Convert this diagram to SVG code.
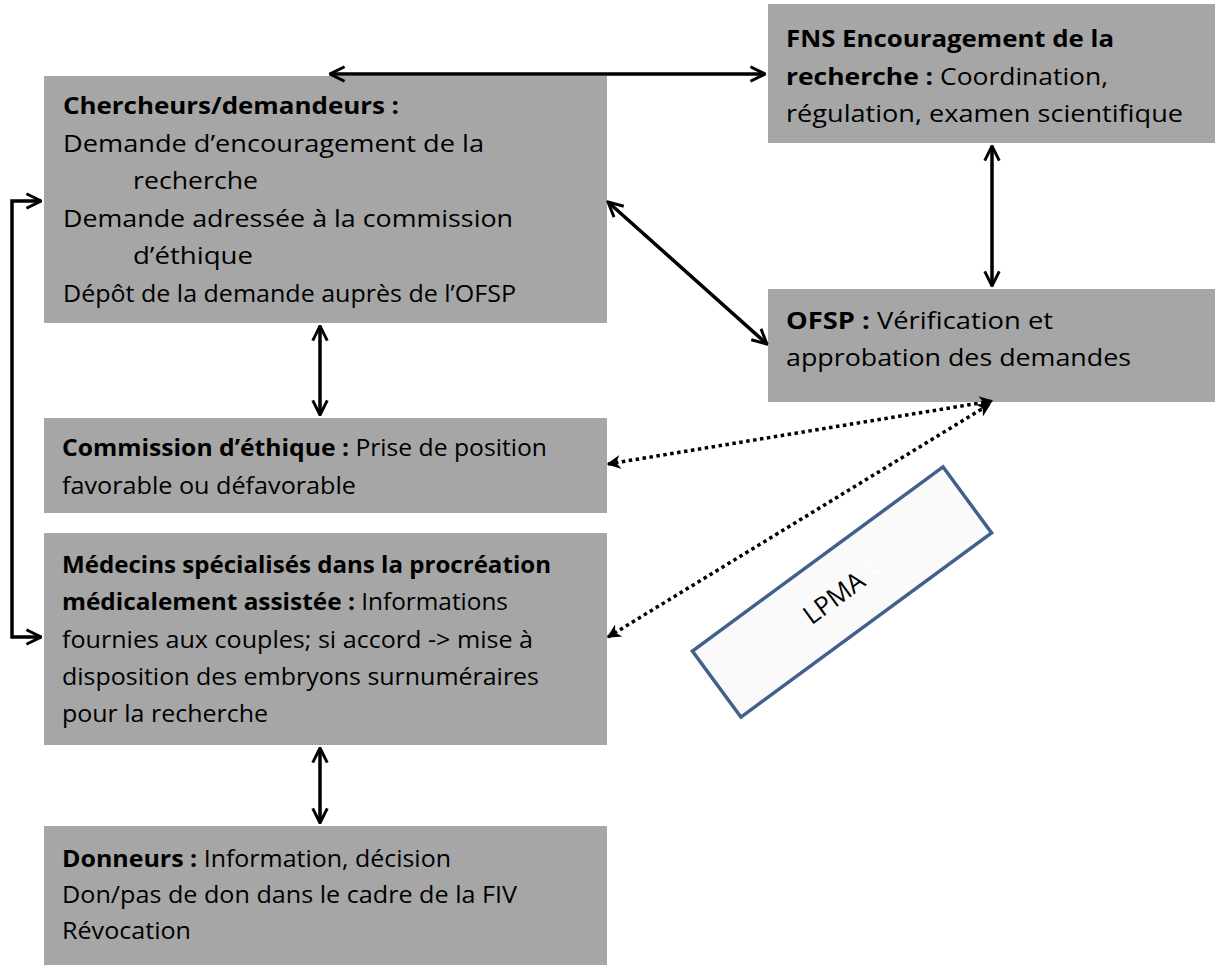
<svg xmlns="http://www.w3.org/2000/svg" width="1215" height="966" viewBox="0 0 1215 966">
<defs>
<style>
.box{fill:#a6a6a6}
.t{font-family:"Open Sans","Liberation Sans",Arial,sans-serif;font-size:24px;fill:#000}
.b{font-weight:bold}
.ln{stroke:#000;stroke-width:3.5;fill:none}
.dt{stroke:#000;stroke-width:3.5;fill:none;stroke-dasharray:3.5 3.5}
</style>
<marker id="ah" viewBox="0 0 12 12" refX="11" refY="6" markerWidth="5" markerHeight="5" orient="auto-start-reverse" markerUnits="strokeWidth">
<path d="M1,1 L11,6 L1,11" fill="none" stroke="#000" stroke-width="2"/>
</marker>
<marker id="ad" viewBox="0 0 10 10" refX="9" refY="5" markerWidth="4" markerHeight="4" orient="auto-start-reverse" markerUnits="strokeWidth">
<path d="M0,0 L10,5 L0,10 L3,5 Z" fill="#000"/>
</marker>
</defs>
<rect width="1215" height="966" fill="#fff"/>

<g id="chercheurs">
<rect class="box" x="44" y="76" width="563" height="247"/>
<text class="t b" x="63" y="114" textLength="336" lengthAdjust="spacingAndGlyphs">Chercheurs/demandeurs :</text>
<text class="t" x="63" y="152" textLength="421" lengthAdjust="spacingAndGlyphs">Demande d’encouragement de la</text>
<text class="t" x="133" y="189" textLength="125" lengthAdjust="spacingAndGlyphs">recherche</text>
<text class="t" x="63" y="227" textLength="450" lengthAdjust="spacingAndGlyphs">Demande adressée à la commission</text>
<text class="t" x="133" y="264" textLength="120" lengthAdjust="spacingAndGlyphs">d’éthique</text>
<text class="t" x="63" y="302" textLength="453" lengthAdjust="spacingAndGlyphs">Dépôt de la demande auprès de l’OFSP</text>
</g>

<g id="fns">
<rect class="box" x="768" y="4" width="447" height="139"/>
<text class="t b" x="786" y="47" textLength="328" lengthAdjust="spacingAndGlyphs">FNS Encouragement de la</text>
<text class="t" x="786" y="85" textLength="322" lengthAdjust="spacingAndGlyphs"><tspan class="b">recherche :</tspan> Coordination,</text>
<text class="t" x="786" y="122" textLength="397" lengthAdjust="spacingAndGlyphs">régulation, examen scientifique</text>
</g>

<g id="ofsp">
<rect class="box" x="768" y="289" width="447" height="113"/>
<text class="t" x="786" y="329" textLength="267" lengthAdjust="spacingAndGlyphs"><tspan class="b">OFSP :</tspan> Vérification et</text>
<text class="t" x="786" y="366" textLength="345" lengthAdjust="spacingAndGlyphs">approbation des demandes</text>
</g>

<g id="commission">
<rect class="box" x="44" y="418" width="563" height="95"/>
<text class="t" x="62" y="456" textLength="485" lengthAdjust="spacingAndGlyphs"><tspan class="b">Commission d’éthique :</tspan> Prise de position</text>
<text class="t" x="62" y="494" textLength="294" lengthAdjust="spacingAndGlyphs">favorable ou défavorable</text>
</g>

<g id="medecins">
<rect class="box" x="44" y="533" width="563" height="212"/>
<text class="t b" x="62" y="573" textLength="489" lengthAdjust="spacingAndGlyphs">Médecins spécialisés dans la procréation</text>
<text class="t" x="62" y="610" textLength="446" lengthAdjust="spacingAndGlyphs"><tspan class="b">médicalement assistée :</tspan> Informations</text>
<text class="t" x="62" y="648" textLength="471" lengthAdjust="spacingAndGlyphs">fournies aux couples; si accord -&gt; mise à</text>
<text class="t" x="62" y="685" textLength="477" lengthAdjust="spacingAndGlyphs">disposition des embryons surnuméraires</text>
<text class="t" x="62" y="722" textLength="206" lengthAdjust="spacingAndGlyphs">pour la recherche</text>
</g>

<g id="donneurs">
<rect class="box" x="44" y="826" width="563" height="139"/>
<text class="t" x="62" y="867" textLength="389" lengthAdjust="spacingAndGlyphs"><tspan class="b">Donneurs :</tspan> Information, décision</text>
<text class="t" x="62" y="903" textLength="455" lengthAdjust="spacingAndGlyphs">Don/pas de don dans le cadre de la FIV</text>
<text class="t" x="62" y="939" textLength="129" lengthAdjust="spacingAndGlyphs">Révocation</text>
</g>

<g id="lpma">
<g transform="translate(842,592) rotate(-36.3)">
<rect x="-155.5" y="-41" width="311" height="82" fill="#fbfafa" stroke="#41618c" stroke-width="3.5"/>
<text x="-10" y="9" text-anchor="middle" font-family="'Open Sans','Liberation Sans',Arial,sans-serif" font-size="26" fill="#000">LPMA</text>
<text x="40" y="6" text-anchor="middle" font-family="'Open Sans','Liberation Sans',Arial,sans-serif" font-size="22" fill="#ffffff">L</text>
</g>
</g>

<g id="connectors">
<line class="ln" x1="330" y1="74" x2="765" y2="74" marker-start="url(#ah)" marker-end="url(#ah)"/>
<line class="ln" x1="992" y1="146" x2="992" y2="286" marker-start="url(#ah)" marker-end="url(#ah)"/>
<line class="ln" x1="608" y1="202" x2="767" y2="344" marker-start="url(#ah)" marker-end="url(#ah)"/>
<line class="ln" x1="320" y1="326" x2="320" y2="415" marker-start="url(#ah)" marker-end="url(#ah)"/>
<line class="ln" x1="320" y1="748" x2="320" y2="823" marker-start="url(#ah)" marker-end="url(#ah)"/>
<polyline class="ln" points="41,201 12,201 12,637 41,637" marker-start="url(#ah)" marker-end="url(#ah)"/>
<line class="dt" x1="608" y1="464" x2="992" y2="401" marker-start="url(#ad)" marker-end="url(#ad)"/>
<line class="dt" x1="608" y1="637" x2="990" y2="404" marker-start="url(#ad)" marker-end="url(#ad)"/>
</g>
</svg>
